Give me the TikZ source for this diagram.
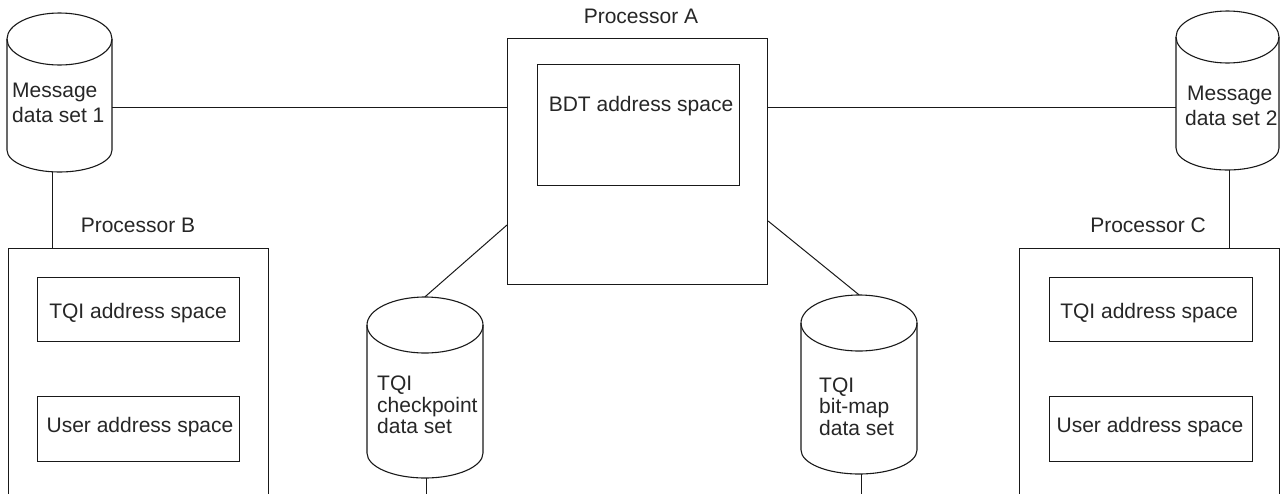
\documentclass[tikz,border=0pt]{standalone}
\usepackage{fontspec}
\setmainfont{Liberation Sans}
\usetikzlibrary{calc}
\tikzset{
  box/.style={draw=black!90, line width=1.1pt, inner sep=0pt, anchor=north west},
  cyl/.style={draw=black!90, line width=1.1pt},
  wire/.style={draw=black!90, line width=1pt},
  lbl/.style={font=\fontsize{21}{24}\selectfont, text=black!85, inner sep=0pt},
}
% name, cx, y of top ellipse centre, y of bottom ellipse centre, rx, ry top, ry bottom
\newcommand\dbcyl[7]{%
  \node[inner sep=0pt, minimum width={2*#5}, minimum height={#4+#7-#3+#6}] (#1) at (#2,{(#3-#6+#4+#7)/2}) {};
  \draw[cyl] ({#2-#5},#3) -- ({#2-#5},#4) arc[start angle=180, end angle=360, x radius=#5pt, y radius=#7pt] -- ({#2+#5},#3);
  \draw[cyl] (#2,#3) ellipse[x radius=#5pt, y radius=#6pt];
}
\begin{document}
\begin{tikzpicture}[x=1pt, y=-1pt]
\useasboundingbox (0,0) rectangle (1281,493);
\clip (0,0) rectangle (1281,493);

% processors
\node[box, minimum width=260pt, minimum height=246pt] (pa) at (507,38) {};
\node[box, minimum width=202pt, minimum height=121pt] (bdt) at (537,64) {};
\node[box, minimum width=260pt, minimum height=280pt] (pb) at (8,248) {};
\node[box, minimum width=202pt, minimum height=64pt] (tqib) at (37,277) {};
\node[box, minimum width=202pt, minimum height=65pt] (userb) at (37,396) {};
\node[box, minimum width=260pt, minimum height=280pt] (pc) at (1019,248) {};
\node[box, minimum width=203pt, minimum height=64pt] (tqic) at (1049,277) {};
\node[box, minimum width=203pt, minimum height=65pt] (userc) at (1049,396) {};

% data sets
\dbcyl{msg1}{59.5}{39}{150}{52.5}{26}{22}
\dbcyl{msg2}{1227.5}{37}{148}{51.5}{26}{22}
\dbcyl{ckpt}{425}{325}{453}{58}{28}{25}
\dbcyl{bmap}{859}{323}{450}{58}{28}{24}

% labels
\node[lbl, anchor=base] (pal) at (641,23) {Processor A};
\node[lbl, anchor=base] (bdtl) at (641,111) {BDT address space};
\node[lbl, anchor=base] (pbl) at (138,232) {Processor B};
\node[lbl, anchor=base] (tqibl) at (138,318) {TQI address space};
\node[lbl, anchor=base] (userbl) at (140,432) {User address space};
\node[lbl, anchor=base] (pcl) at (1148,232) {Processor C};
\node[lbl, anchor=base] (tqicl) at (1149,318) {TQI address space};
\node[lbl, anchor=base] (usercl) at (1150,432) {User address space};

\node[lbl, anchor=base west] (m1a) at (12,97) {Message};
\node[lbl, anchor=base west] (m1b) at (12,122) {data set 1};
\node[lbl, anchor=base west] (m2a) at (1187,100) {Message};
\node[lbl, anchor=base west] (m2b) at (1185,125) {data set 2};
\node[lbl, anchor=base west] (c1) at (377,390) {TQI};
\node[lbl, anchor=base west] (c2) at (377,412) {checkpoint};
\node[lbl, anchor=base west] (c3) at (377,433) {data set};
\node[lbl, anchor=base west] (b1) at (819,392) {TQI};
\node[lbl, anchor=base west] (b2) at (819,413) {bit-map};
\node[lbl, anchor=base west] (b3) at (819,435) {data set};

% connectors
\coordinate (hl) at (0,107);
\draw[wire] (msg1.east |- hl) -- (pa.west |- hl);
\draw[wire] (pa.east |- hl) -- (msg2.west |- hl);
\coordinate (vb) at (52,0);
\draw[wire] (msg1.south -| vb) -- (pb.north -| vb);
\coordinate (vc) at (1229,0);
\draw[wire] (msg2.south -| vc) -- (pc.north -| vc);
\coordinate (dl) at (0,225);
\draw[wire] (pa.west |- dl) -- (ckpt.north);
\coordinate (dr) at (0,221);
\draw[wire] (pa.east |- dr) -- (bmap.north);
\coordinate (ckend) at (426,497);
\draw[wire] (ckpt.south -| ckend) -- (ckend);
\coordinate (bmend) at (861,497);
\draw[wire] (bmap.south -| bmend) -- (bmend);
\end{tikzpicture}
\end{document}
